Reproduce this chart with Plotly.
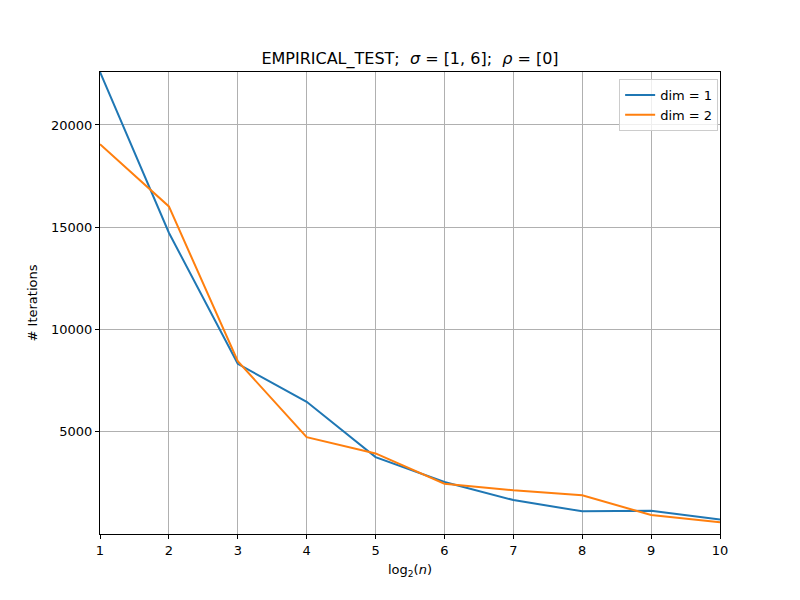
import plotly.graph_objects as go

x_vals = [1, 2, 3, 4, 5, 6, 7, 8, 9, 10]
dim1 = [22590, 14730, 8320, 6465, 3760, 2540, 1660, 1108, 1142, 703]
dim2 = [19062, 16016, 8447, 4737, 3940, 2461, 2134, 1890, 928, 571]
y_ticks = [5000, 10000, 15000, 20000]
y_labels = [str(v) for v in y_ticks]

fig = go.Figure()
fig.add_trace(go.Scatter(x=x_vals, y=dim1, mode="lines", name="dim = 1",
                         line=dict(color="#1f77b4", width=2)))
fig.add_trace(go.Scatter(x=x_vals, y=dim2, mode="lines", name="dim = 2",
                         line=dict(color="#ff7f0e", width=2)))

font = "DejaVu Sans"
fig.update_layout(
    width=800, height=600,
    margin=dict(l=100, r=80, t=72, b=66),
    paper_bgcolor="white", plot_bgcolor="white",
    font=dict(family=font, size=13, color="black"),
    title=dict(text="EMPIRICAL_TEST;  <i>σ</i> = [1, 6];  <i>ρ</i> = [0]",
               x=0.5125, xanchor="center", y=1 - 58 / 600, yanchor="middle",
               font=dict(size=16, family=font)),
    showlegend=True,
    legend=dict(x=0.997, y=0.985, xanchor="right", yanchor="top",
                bgcolor="rgba(255,255,255,0.8)", bordercolor="#cccccc", borderwidth=1,
                font=dict(size=13, family=font)),
    xaxis=dict(range=[1, 10], tickvals=x_vals, showgrid=True, gridcolor="#b0b0b0",
               gridwidth=1, showline=True, linecolor="black", linewidth=1, mirror=True,
               ticks="outside", ticklen=4, tickcolor="black", zeroline=False,
               title=dict(text="log<sub>2</sub>(<i>n</i>)", standoff=8,
                          font=dict(size=13, family=font)),
               tickfont=dict(size=13, family=font)),
    yaxis=dict(range=[0, 22590], tickvals=y_ticks, ticktext=y_labels,
               showgrid=True, gridcolor="#b0b0b0",
               gridwidth=1, showline=True, linecolor="black", linewidth=1, mirror=True,
               ticks="outside", ticklen=4, tickcolor="black", zeroline=False,
               title=dict(text="# Iterations", standoff=10,
                          font=dict(size=13, family=font)),
               tickfont=dict(size=13, family=font)),
)

fig.write_html("out.html")
